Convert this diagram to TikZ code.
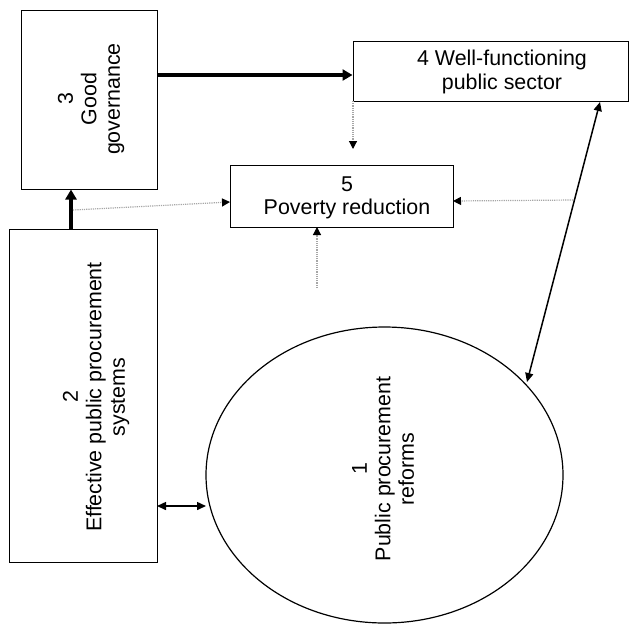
\documentclass[tikz,border=0pt]{standalone}
\usepackage{fontspec}
\setmainfont{Liberation Sans}
\usetikzlibrary{arrows.meta,shapes.geometric}

\begin{document}
\begin{tikzpicture}[x=1pt,y=-1pt,
  every node/.style={font=\fontsize{21.4}{23.5}\selectfont, align=center},
  box/.style={draw=black, line width=1pt, inner sep=0pt},
  thick link/.style={line width=3.8pt, -{Triangle[length=10pt,width=11pt]}},
  dot link/.style={draw=gray!70, line width=1.2pt, densely dotted,
                   -{Triangle[length=8pt,width=8pt,color=black,fill=black]}},
  both link/.style={line width=1.5pt, {Triangle[length=9pt,width=8pt]}-{Triangle[length=9pt,width=8pt]}}
]
\useasboundingbox (0,0) rectangle (629,625);

% boxes
\node[box, minimum width=136pt, minimum height=179pt] (gov) at (89,99.5) {};
\node[rotate=90] (govtxt) at (91,99) {3\\Good\\governance};

\node[box, minimum width=275pt, minimum height=60pt] (sector) at (490.5,71) {};
\node (sectortxt) at (502,72) {4 Well-functioning\\public sector};

\node[box, minimum width=223pt, minimum height=62pt] (poverty) at (341.5,196) {};
\node (povtxt) at (347,198) {5\\Poverty reduction};

\node[box, minimum width=148pt, minimum height=333pt] (systems) at (83,395.5) {};
\node[rotate=90] (systxt) at (96,397) {2\\Effective public procurement\\systems};

\node[draw=black, line width=1.2pt, ellipse, inner sep=0pt,
      minimum width=357pt, minimum height=296pt] (reforms) at (384.5,475) {};
\node[rotate=90] (reftxt) at (383,469) {1\\Public procurement\\reforms};

% free ends of the dotted connectors
\coordinate (s4) at (353,101);
\coordinate (e4) at (353,149);
\coordinate (sl) at (73,210);
\coordinate (el) at (230,202);
\coordinate (sr) at (573,200);
\coordinate (er) at (453,201);
\coordinate (sb) at (317,288);
\coordinate (eb) at (317,227);
\coordinate (a41) at (600,102);
\coordinate (b41) at (527,382);
\coordinate (a21) at (157,506);
\coordinate (b21) at (206,506);

% strong links
\draw[thick link] (systems.north -| 71,0) -- (gov.south -| 71,0);
\draw[thick link] (gov.east |- 0,75) -- (sector.west |- 0,75);

% dotted links
\draw[dot link] (s4) -- (e4);
\draw[dot link] (sl) -- (el);
\draw[dot link] (sr) -- (er);
\draw[dot link] (sb) -- (eb);

% two-way links
\draw[both link] (a41) -- (b41);
\draw[both link] (a21) -- (b21);
\end{tikzpicture}
\end{document}
